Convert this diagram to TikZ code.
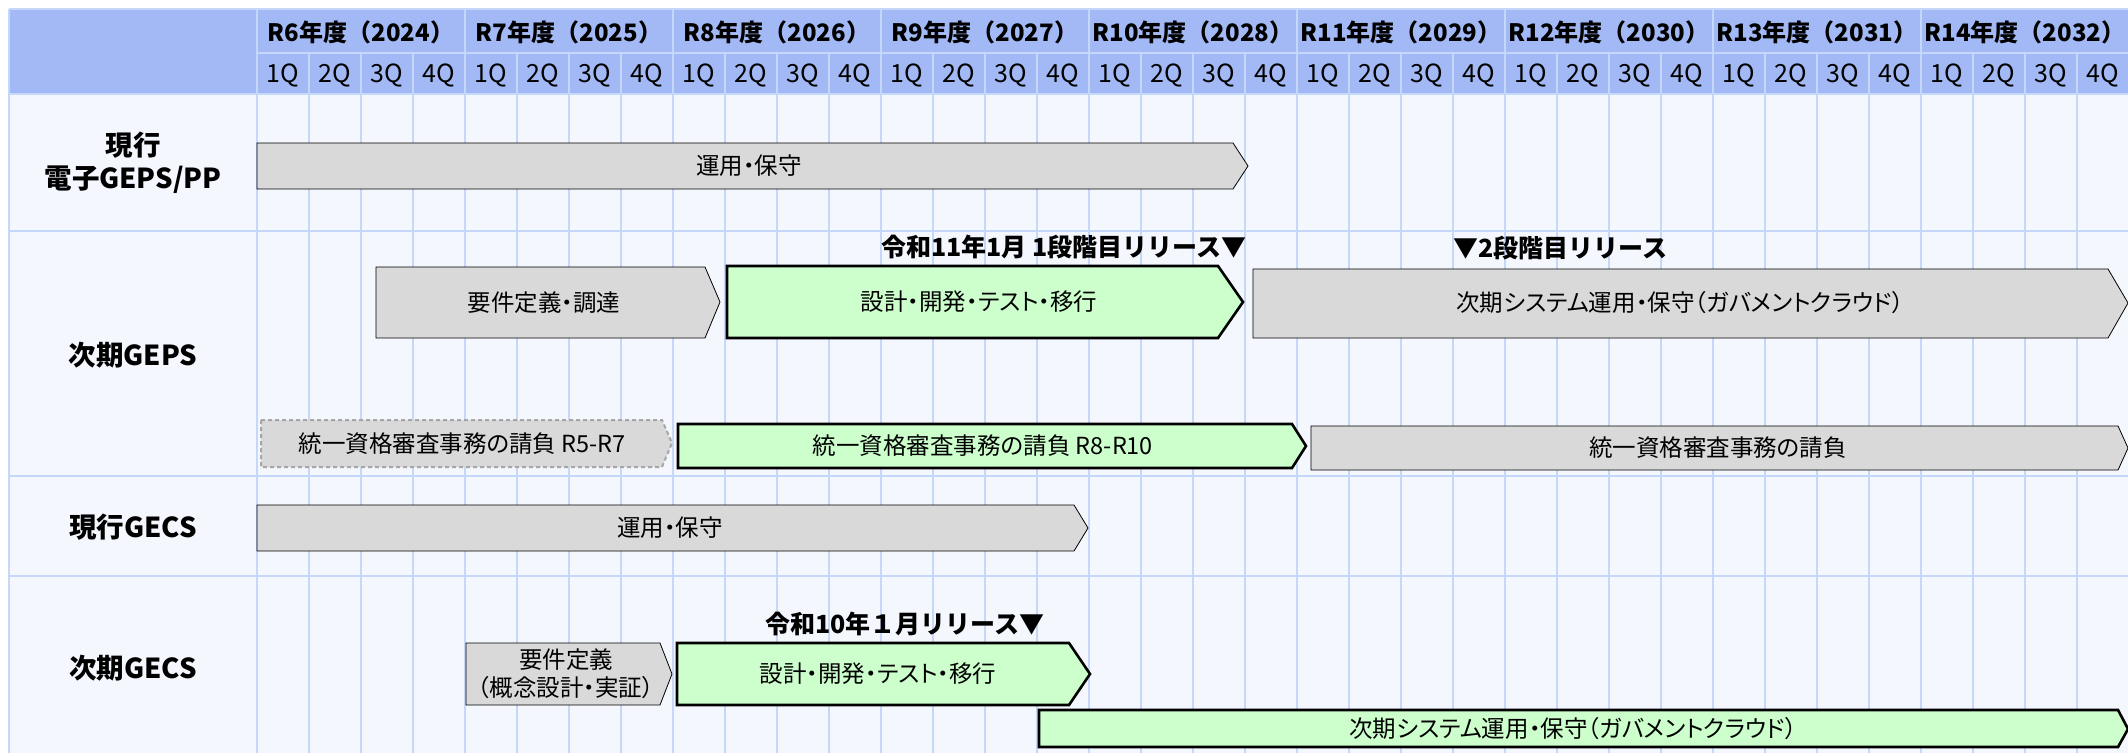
\documentclass[tikz,border=0pt]{standalone}
\usepackage{fontspec}
\setmainfont{Noto Sans CJK JP}
\newfontfamily\palfont{Noto Sans CJK JP}[RawFeature=+palt]
\definecolor{hdrblue}{HTML}{A2B9F5}
\definecolor{gridblue}{HTML}{C6D8FA}
\definecolor{bodybg}{HTML}{F4F7FE}
\definecolor{bargray}{HTML}{D9D9D9}
\definecolor{bargreen}{HTML}{CCFFCC}
\definecolor{dashgray}{HTML}{A6A6A6}

\begin{document}
\begin{tikzpicture}
    [
    x=0.5pt, y=-0.5pt
    , graybar/.style = {fill=bargray}
    , greenbar/.style = {fill=bargreen, draw=black, line width=1.3pt}
    , dashbar/.style = {fill=bargray, draw=dashgray, line width=1pt, dash pattern=on 2pt off 1.5pt}
    , bartext/.style = {inner sep=0pt, align=center, font=\palfont\fontsize{11.75}{14}\selectfont}
    , rowlabel/.style = {inner sep=0pt, align=center, font=\bfseries\fontsize{13.75}{16.5}\selectfont}
    , yearlabel/.style = {inner sep=0pt, font=\bfseries\fontsize{12}{14}\selectfont}
    , qlabel/.style = {inner sep=0pt, font=\fontsize{12.5}{14}\selectfont}
    , release/.style = {inner sep=0pt, font=\bfseries\fontsize{12.5}{14}\selectfont}
    , gridline/.style = {draw=gridblue, line width=1.3pt}
    ]
\useasboundingbox (0,0) rectangle (2128,753);
\fill[white] (0,0) rectangle (2128,753);
\fill[bodybg] (9,9) rectangle (2128,753);
\fill[hdrblue] (9,9) rectangle (2128,94);

% grid
\foreach \k in {1,...,35} \draw[gridline] ({257+52*\k},53) -- ({257+52*\k},753);
\foreach \k in {0,4,...,32} \draw[gridline] ({257+52*\k},9) -- ({257+52*\k},753);
\draw[gridline] (9,9) -- (9,753);
\draw[gridline] (257,53) -- (2128,53);
\foreach \yy in {9,94,231,476,576} \draw[gridline] (9,\yy) -- (2128,\yy);

% header
\foreach \yr [count=\i from 0] in {6,...,14} {
  \pgfmathtruncatemacro\ad{2018+\yr}
  \node[yearlabel] (y\yr) at ({257+208*\i+104},32) {R\yr{}年度（\ad）};
}
\foreach \k in {0,...,35} {
  \pgfmathtruncatemacro\q{mod(\k,4)+1}
  \node[qlabel] (q\k) at ({257+52*\k+26},75) {\q Q};
}

% rows
\node[rowlabel] (curgeps) at (133,163) {現行\\電子GEPS/PP};
\node[rowlabel] (nextgeps) at (133,355) {次期GEPS};
\node[rowlabel] (curgecs) at (133,527) {現行GECS};
\node[rowlabel] (nextgecs) at (133,668) {次期GECS};

% 現行電子GEPS/PP
\draw[graybar] (257,143) -- (1233,143) -- (1248,166) -- (1233,189) -- (257,189) -- cycle;
\node[bartext] (gepsops) at (749,166) {運用・保守};

% 次期GEPS
\draw[graybar] (376,267) -- (705,267) -- (720,302) -- (705,338) -- (376,338) -- cycle;
\node[bartext] (gepsreq) at (544,303) {要件定義・調達};
\draw[greenbar] (727,266) -- (1218,266) -- (1243,302) -- (1218,338) -- (727,338) -- cycle;
\node[bartext] (gepsdev) at (979,302) {設計・開発・テスト・移行};
\draw[graybar] (1253,269) -- (2108,269) -- (2128,303) -- (2108,338) -- (1253,338) -- cycle;
\node[bartext] (gepsnew) at (1680,303) {次期システム運用・保守（ガバメントクラウド）};
\node[release, anchor=east] (rel1) at (1247,247) {令和11年1月 1段階目リリース▼};
\node[release, anchor=west] (rel2) at (1453,248) {▼2段階目リリース};

\draw[dashbar] (261,420) -- (662,420) -- (672,443) -- (662,467) -- (261,467) -- cycle;
\node[bartext] (ukeoi1) at (462,444) {統一資格審査事務の請負 R5-R7};
\draw[greenbar] (678,424) -- (1292,424) -- (1306,446) -- (1292,468) -- (678,468) -- cycle;
\node[bartext] (ukeoi2) at (983,446) {統一資格審査事務の請負 R8-R10};
\draw[graybar] (1311,426) -- (2118,426) -- (2128,448) -- (2118,470) -- (1311,470) -- cycle;
\node[bartext] (ukeoi3) at (1718,448) {統一資格審査事務の請負};

% 現行GECS
\draw[graybar] (257,505) -- (1074,505) -- (1088,528) -- (1074,551) -- (257,551) -- cycle;
\node[bartext] (gecsops) at (670,528) {運用・保守};

% 次期GECS
\node[release, anchor=east] (rel3) at (1045,624) {令和10年１月リリース▼};
\draw[graybar] (466,643) -- (660,643) -- (672,674) -- (660,705) -- (466,705) -- cycle;
\node[bartext] (gecsreq) at (566,674) {要件定義\\（概念設計・実証）};
\draw[greenbar] (677,643) -- (1069,643) -- (1090,674) -- (1069,705) -- (677,705) -- cycle;
\node[bartext] (gecsdev) at (878,674) {設計・開発・テスト・移行};
\draw[greenbar] (1039,710) -- (2118,710) -- (2128,729) -- (2118,747) -- (1039,747) -- cycle;
\node[bartext] (gecsnew) at (1573,729) {次期システム運用・保守（ガバメントクラウド）};
\end{tikzpicture}
\end{document}
